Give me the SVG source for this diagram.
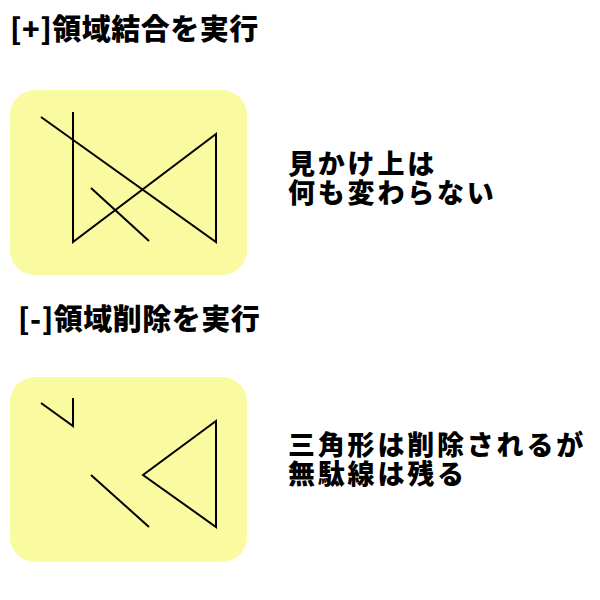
<svg xmlns="http://www.w3.org/2000/svg" width="600" height="600" viewBox="0 0 600 600">
<style>
.t{font-family:"Noto Sans CJK JP","Noto Sans",sans-serif;font-weight:900;fill:#000}
.h{font-size:29px;letter-spacing:0.5px}
.b{font-size:27px;letter-spacing:2.8px}
.box{fill:#fafaa0}
.ln{fill:none;stroke:#000;stroke-width:2;stroke-linecap:butt;stroke-linejoin:miter}
</style>
<rect width="600" height="600" fill="#fff"/>
<g id="title1"><text class="t h" x="10" y="40">[+]領域結合を実行</text></g>
<g id="panel1">
<rect class="box" x="10" y="90" width="237" height="185" rx="25"/>
<polyline class="ln" points="41,117 216,242 216,134 73,242 73,112"/>
<line class="ln" x1="91" y1="188" x2="149" y2="241"/>
</g>
<g id="note1"><text class="t b" x="288" y="174">見かけ上は</text><text class="t b" x="288" y="203">何も変わらない</text></g>
<g id="title2"><text class="t h" x="18" y="330">[-]領域削除を実行</text></g>
<g id="panel2">
<rect class="box" x="10" y="377" width="237" height="185" rx="25"/>
<polyline class="ln" points="41,403 73,426 73,398"/>
<line class="ln" x1="91" y1="475" x2="149" y2="527"/>
<polygon class="ln" points="216,421 143,475 216,527"/>
</g>
<g id="note2"><text class="t b" x="288" y="455">三角形は削除されるが</text><text class="t b" x="288" y="484">無駄線は残る</text></g>
<g id="connectors"></g>
</svg>
